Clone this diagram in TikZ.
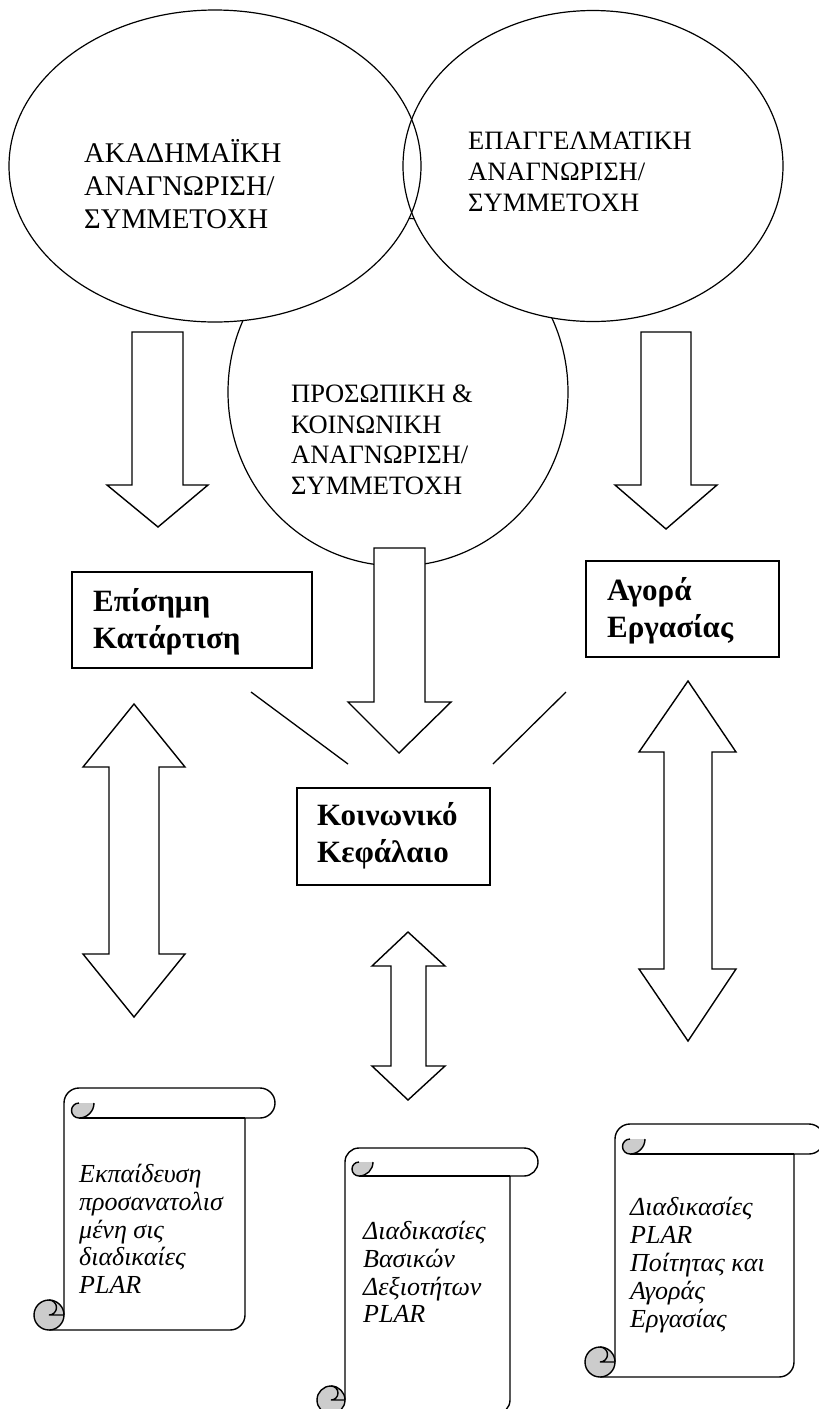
\documentclass[tikz,border=0pt]{standalone}
\usepackage{fontspec}
\setmainfont{Liberation Serif}
\definecolor{curl}{RGB}{204,204,204}
\tikzset{
  ov/.style={line width=1.2pt},
  blk/.style={draw, line width=1.4pt, fill=white, line join=miter},
  bx/.style={draw, line width=1.4pt, fill=white, inner sep=0pt},
  scr/.style={line width=1.4pt},
  ctxt/.style={anchor=west, align=left, inner sep=0pt},
  btxt/.style={anchor=west, align=left, inner sep=0pt, font=\fontsize{31}{37}\selectfont\bfseries},
  stxt/.style={anchor=west, align=left, inner sep=0pt, font=\fontsize{26}{27.8}\selectfont\itshape},
  conn/.style={line width=1.3pt}
}
\newcommand{\vscroll}[5]{%
  \pgfmathsetmacro\sL{#1}\pgfmathsetmacro\sT{#2}\pgfmathsetmacro\sR{#3}\pgfmathsetmacro\sB{#4}%
  \pgfmathsetmacro\sc{#5}\pgfmathsetmacro\sh{#5/2}\pgfmathsetmacro\sq{#5/4}%
  \draw[scr, fill=white] (\sL+\sc,\sB-\sh) -- (\sL+\sc,\sT+\sh)
     arc[start angle=180,end angle=270,radius=\sh] -- (\sR-\sh,\sT)
     arc[start angle=270,end angle=450,radius=\sh] -- (\sR-\sc,\sT+\sc)
     -- (\sR-\sc,\sB-\sh) arc[start angle=0,end angle=90,radius=\sh] -- (\sL+\sh,\sB);
  \draw[scr] (\sR-\sc,\sT+\sc) -- (\sL+1.5*\sc,\sT+\sc);
  \fill[curl] (\sL+1.5*\sc,\sT+\sh) arc[start angle=270,end angle=90,radius=\sq]
     arc[start angle=90,end angle=0,radius=\sh] -- cycle;
  \draw[scr] (\sL+1.5*\sc,\sT+\sh) arc[start angle=270,end angle=90,radius=\sq]
     arc[start angle=90,end angle=0,radius=\sh];
  \draw[scr, fill=curl] (\sL+\sh,\sB-\sh) circle[radius=\sh];
  \draw[scr] (\sL+\sh,\sB-\sc) arc[start angle=270,end angle=450,radius=\sq] -- (\sL+\sc,\sB-\sh);
}
\begin{document}
\begin{tikzpicture}[x=1pt,y=-1pt]
\useasboundingbox (0,0) rectangle (819,1409);
\clip (0,0) rectangle (819,1409);
\fill[white] (0,0) rectangle (819,1409);

% circles: middle behind, left and right in front
\draw[ov, fill=white] (398,392) ellipse [x radius=170, y radius=174];
\fill[white] (215,166) ellipse [x radius=206, y radius=156];
\fill[white] (593,166) ellipse [x radius=190, y radius=155.5];
\draw[ov] (215,166) ellipse [x radius=206, y radius=156];
\draw[ov] (593,166) ellipse [x radius=190, y radius=155.5];

\node[ctxt, font=\fontsize{28.5}{33}\selectfont] (tAcad) at (84,184) {ΑΚΑΔΗΜΑΪΚΗ\\ΑΝΑΓΝΩΡΙΣΗ/\\ΣΥΜΜΕΤΟΧΗ};
\node[ctxt, font=\fontsize{26.5}{31}\selectfont] (tProf) at (468,172) {ΕΠΑΓΓΕΛΜΑΤΙΚΗ\\ΑΝΑΓΝΩΡΙΣΗ/\\ΣΥΜΜΕΤΟΧΗ};
\node[ctxt, font=\fontsize{26.5}{30.5}\selectfont] (tPers) at (291,440) {ΠΡΟΣΩΠΙΚΗ \&\\ΚΟΙΝΩΝΙΚΗ\\ΑΝΑΓΝΩΡΙΣΗ/\\ΣΥΜΜΕΤΟΧΗ};

% down block arrows
\draw[blk] (132,332) -- (183,332) -- (183,485) -- (208,485) -- (158,527) -- (107,485) -- (132,485) -- cycle;
\draw[blk] (641,332) -- (691,332) -- (691,485) -- (717,485) -- (666,529) -- (615,485) -- (641,485) -- cycle;
\draw[blk] (374,548) -- (425,548) -- (425,702) -- (451,702) -- (399,753) -- (348,702) -- (374,702) -- cycle;

% boxes
\node[bx, minimum width=240pt, minimum height=96pt] (bForm) at (192,620) {};
\node[btxt] (tForm) at (93,622) {Επίσημη\\Κατάρτιση};
\node[bx, minimum width=193pt, minimum height=96pt] (bLab) at (682.5,609) {};
\node[btxt] (tLab) at (607,611) {Αγορά\\Εργασίας};
\node[bx, minimum width=193pt, minimum height=97pt] (bSoc) at (393.5,836.5) {};
\node[btxt] (tSoc) at (317,836) {Κοινωνικό\\Κεφάλαιο};

% diagonal lines
\coordinate (l1a) at (251,692); \coordinate (l1b) at (348,764);
\coordinate (l2a) at (566,692); \coordinate (l2b) at (493,764);
\draw[conn] (l1a) -- (l1b);
\draw[conn] (l2a) -- (l2b);

% double block arrows
\draw[blk] (134,704) -- (185,767) -- (159,767) -- (159,954) -- (185,954) -- (134,1017) -- (83,954) -- (109,954) -- (109,767) -- (83,767) -- cycle;
\draw[blk] (688,681) -- (736,752) -- (712,752) -- (712,969) -- (736,969) -- (688,1041) -- (639,969) -- (664,969) -- (664,752) -- (639,752) -- cycle;
\draw[blk] (408,932) -- (445,966) -- (426,966) -- (426,1066) -- (445,1066) -- (408,1100) -- (372,1066) -- (391,1066) -- (391,966) -- (372,966) -- cycle;

% scrolls
\vscroll{34}{1088}{275}{1330}{30}
\vscroll{317}{1148}{538}{1414}{28}
\vscroll{585}{1124}{824}{1377}{30}

\node[stxt] (s1) at (79,1229) {Εκπαίδευση\\προσανατολισ\\μένη σις\\διαδικαίες\\PLAR};
\node[stxt] (s2) at (363,1272) {Διαδικασίες\\Βασικών\\Δεξιοτήτων\\PLAR};
\node[stxt] (s3) at (630,1265) {Διαδικασίες\\PLAR\\Ποίτητας και\\Αγοράς\\Εργασίας};
\end{tikzpicture}
\end{document}
